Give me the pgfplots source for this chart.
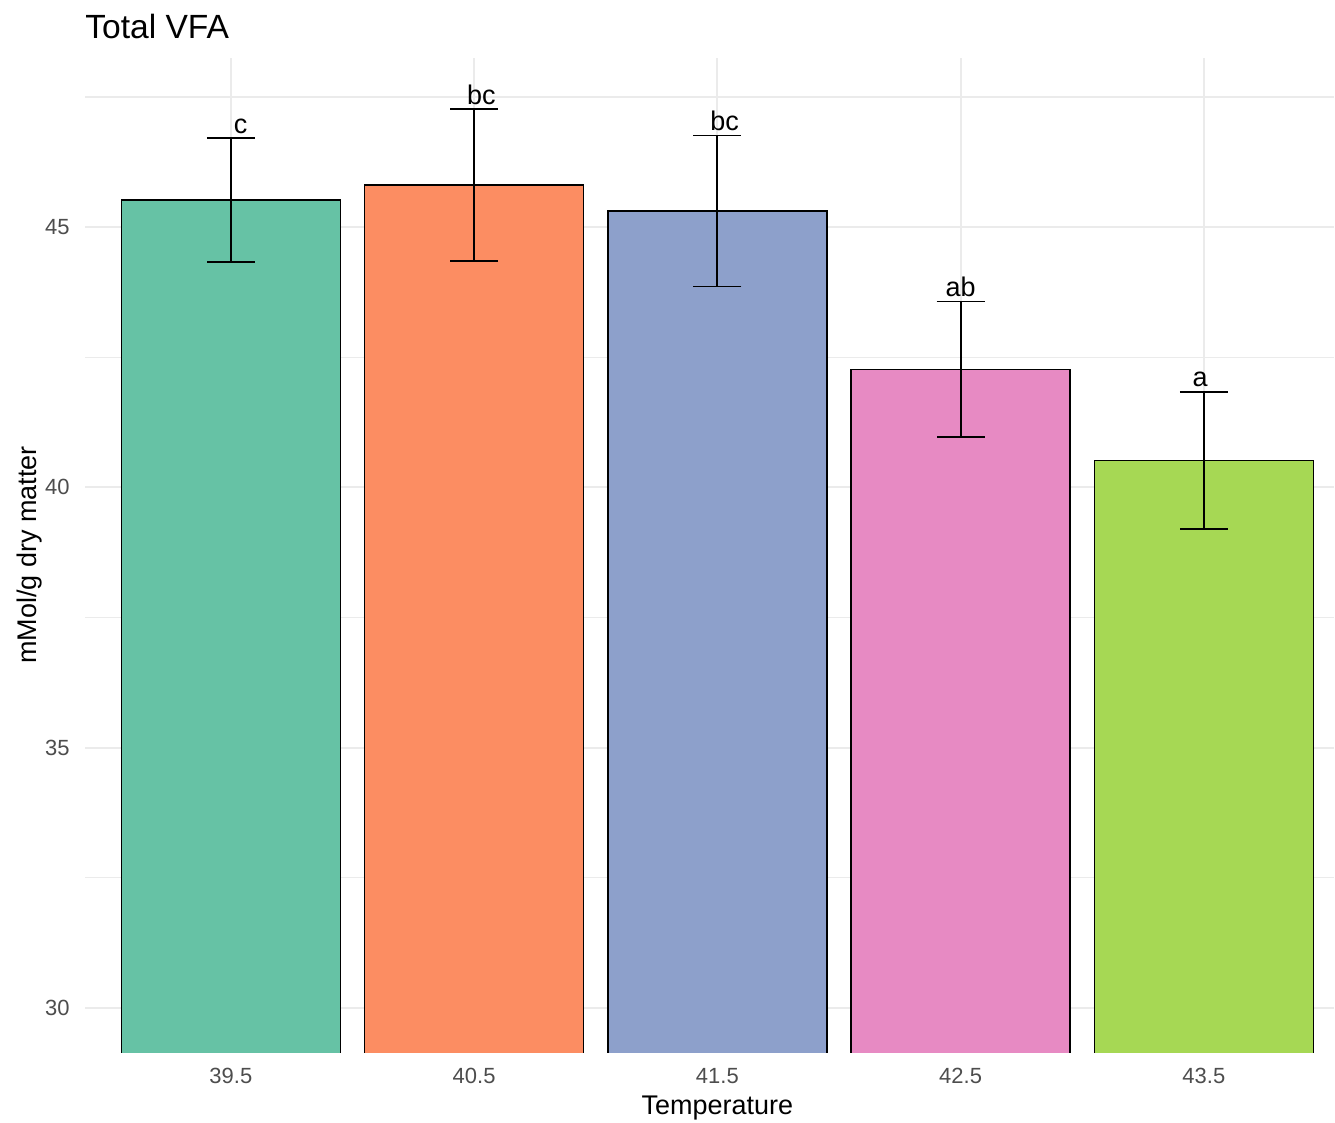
\documentclass[border=0pt]{standalone}
\usepackage{fontspec}
\setmainfont{Liberation Sans}
\usepackage{pgfplots}
\pgfplotsset{compat=1.18}
\definecolor{c1}{HTML}{66C2A5}
\definecolor{c2}{HTML}{FC8D62}
\definecolor{c3}{HTML}{8DA0CB}
\definecolor{c4}{HTML}{E78AC3}
\definecolor{c5}{HTML}{A6D854}
\definecolor{gridc}{HTML}{EBEBEB}
\definecolor{tickc}{HTML}{4D4D4D}
\begin{document}
\begin{tikzpicture}
\path (-42.5pt,-35pt) rectangle (625pt,526.5pt);
\begin{axis}[
  name=ax, at={(0,0)}, anchor=south west,
  scale only axis, width=625pt, height=497.5pt,
  xmin=-0.6, xmax=4.535, ymin=29.15, ymax=48.25,
  axis line style={draw=none}, major tick length=0pt, minor tick length=0pt,
  xtick={0,1,2,3,4}, xticklabels={39.5,40.5,41.5,42.5,43.5},
  ytick={30,35,40,45}, minor ytick={32.5,37.5,42.5,47.5},
  grid=both,
  major grid style={gridc, line width=1pt},
  minor grid style={gridc, line width=0.6pt},
  /pgf/number format/assume math mode=true,
  tick label style={font=\fontsize{11}{13}\selectfont, color=tickc, inner sep=0pt},
  xticklabel style={anchor=north, yshift=-8pt},
  yticklabel style={anchor=east, xshift=-7.5pt},
  clip mode=individual,
  bar/.style={draw=black, line width=0.7pt, line join=miter, mark=none},
]
% bars (drawn from below the lower limit, so that their bottom edge is clipped away)
\addplot[bar, fill=c1] coordinates {(-0.45,20) (-0.45,45.52) (0.45,45.52) (0.45,20)};
\addplot[bar, fill=c2] coordinates {(0.55,20) (0.55,45.81) (1.45,45.81) (1.45,20)};
\addplot[bar, fill=c3] coordinates {(1.55,20) (1.55,45.31) (2.45,45.31) (2.45,20)};
\addplot[bar, fill=c4] coordinates {(2.55,20) (2.55,42.27) (3.45,42.27) (3.45,20)};
\addplot[bar, fill=c5] coordinates {(3.55,20) (3.55,40.52) (4.45,40.52) (4.45,20)};
% error bars
\addplot[draw=none, mark=none,
  error bars/.cd, y dir=both, y explicit,
  error bar style={line width=0.9pt, draw=black},
  error mark options={rotate=90, mark size=12pt, line width=0.9pt, draw=black}]
  coordinates {
  (0,45.52) +- (0,1.19)
  (1,45.81) +- (0,1.455)
  (2,45.31) +- (0,1.45)
  (3,42.27) +- (0,1.30)
  (4,40.52) +- (0,1.32)
  };
\begin{scope}[every node/.style={anchor=base, inner sep=0pt, yshift=2.5pt, font=\fontsize{13.5}{15}\selectfont}]
\node at (axis cs:0.04,46.71) {c};
\node at (axis cs:1.03,47.265) {bc};
\node at (axis cs:2.03,46.76) {bc};
\node at (axis cs:3.0,43.57) {ab};
\node at (axis cs:3.985,41.84) {a};
\end{scope}
\node[anchor=base, inner sep=0pt, yshift=-31pt, font=\fontsize{13.5}{15}\selectfont] at (axis cs:2,29.15) {Temperature};
\end{axis}
\node[anchor=base west, inner sep=0pt, yshift=9.5pt, font=\fontsize{16.8}{19}\selectfont] at (ax.north west) {Total VFA};
\node[rotate=90, inner sep=0pt, font=\fontsize{13.5}{15}\selectfont] at ([xshift=-27.5pt]ax.west) {mMol/g dry matter};
\end{tikzpicture}
\end{document}
